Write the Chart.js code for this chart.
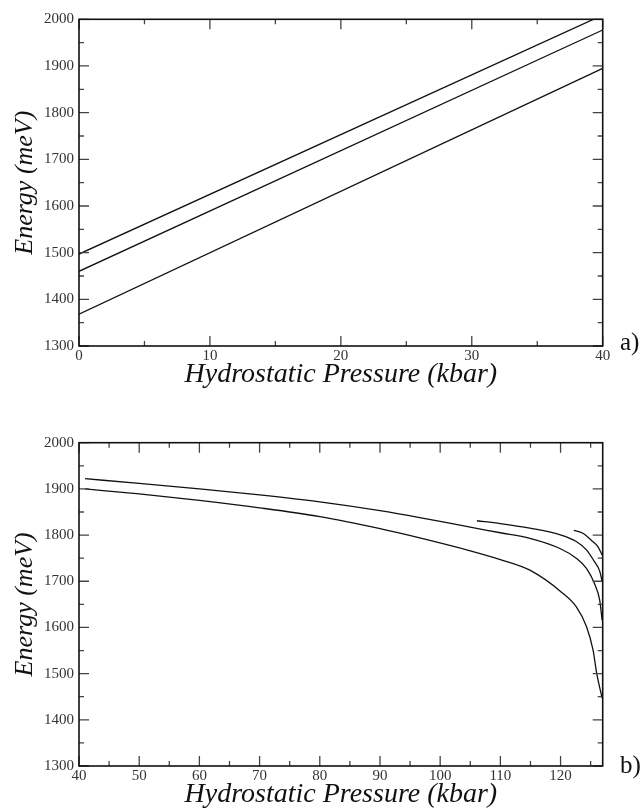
<!DOCTYPE html>
<html>
<head>
<meta charset="utf-8">
<script src="https://cdn.jsdelivr.net/npm/chart.js@4/dist/chart.umd.min.js"></script>
<style>
  html, body { margin: 0; padding: 0; background: #fff; }
  body { width: 642px; height: 808px; position: relative; overflow: hidden; }
  .wrap { position: absolute; left: 0; width: 642px; }
  #wa { top: 0; height: 391px; }
  #wb { top: 420px; height: 391px; }
  .lab { position: absolute; font-family: "Liberation Serif", "DejaVu Serif", serif; font-size: 25px; color: #111; line-height: 1; }
</style>
</head>
<body>
<div class="wrap" id="wa"><canvas id="ca" width="642" height="391"></canvas></div>
<div class="wrap" id="wb"><canvas id="cb" width="642" height="391"></canvas></div>
<div class="lab" style="left:620px; top:329px;">a)</div>
<div class="lab" style="left:620px; top:752px;">b)</div>
<script>
// ---------- data: panel a ----------
const pressureA = [0, 40];
const levelA1 = [1497, 2009];
const levelA2 = [1460, 1977];
const levelA3 = [1368, 1895];
const xTicksA = [0, 10, 20, 30, 40];
const xMinorA = [5, 15, 25, 35];

// ---------- data: panel b ----------
const pressureB1 = [41, 50, 60, 70, 80, 90, 96.6, 105, 110, 114.9, 119.9, 122.6, 124.3, 125.6, 126.5, 126.9];
const energyB1   = [1922, 1912, 1900, 1887, 1872, 1853, 1838, 1817, 1805, 1793, 1771, 1750, 1728, 1696, 1659, 1616];
const pressureB2 = [41, 50, 60, 70, 80, 90, 96.6, 105, 110, 114.9, 120.1, 122.6, 124.3, 125.4, 126.0, 126.9];
const energyB2   = [1900, 1889, 1875, 1859, 1840, 1814, 1794, 1766, 1747, 1724, 1677, 1645, 1602, 1551, 1501, 1447];
const pressureB3 = [106.1, 110, 114.9, 120.1, 122.6, 124.3, 125.6, 126.5, 126.9];
const energyB3   = [1831, 1825, 1815, 1800, 1786, 1768, 1743, 1722, 1700];
const pressureB4 = [122.2, 123.7, 125.1, 126.2, 126.9];
const energyB4   = [1810, 1804, 1789, 1775, 1757];
const xTicksB = [40, 50, 60, 70, 80, 90, 100, 110, 120];
const xMinorB = [45, 55, 65, 75, 85, 95, 105, 115, 125];

// ---------- shared energy axis ----------
const yTicks = [1300, 1400, 1500, 1600, 1700, 1800, 1900, 2000];
const yMinor = [1350, 1450, 1550, 1650, 1750, 1850, 1950];

const FONT = "'Liberation Serif', 'DejaVu Serif', serif";
const xTitle = 'Hydrostatic Pressure (kbar)';
const yTitle = 'Energy (meV)';

function pts(xs, ys) { return xs.map((x, i) => ({ x: x, y: ys[i] })); }
function line(xs, ys) {
  return {
    data: pts(xs, ys), borderColor: '#111', borderWidth: 1.3, pointRadius: 0,
    fill: false, cubicInterpolationMode: 'monotone'
  };
}

const framePlugin = {
  id: 'frame',
  afterDraw(chart, args, opts) {
    const ctx = chart.ctx;
    const a = chart.chartArea;
    const xs = chart.scales.x, ys = chart.scales.y;
    ctx.save();
    ctx.strokeStyle = '#444';
    ctx.lineWidth = 1.3;
    const M = 10, m = 5;
    ctx.beginPath();
    opts.xMajor.forEach(v => { const p = xs.getPixelForValue(v);
      ctx.moveTo(p, a.bottom); ctx.lineTo(p, a.bottom - M);
      ctx.moveTo(p, a.top); ctx.lineTo(p, a.top + M); });
    opts.xMinor.forEach(v => { const p = xs.getPixelForValue(v);
      ctx.moveTo(p, a.bottom); ctx.lineTo(p, a.bottom - m);
      ctx.moveTo(p, a.top); ctx.lineTo(p, a.top + m); });
    opts.yMajor.forEach(v => { const p = ys.getPixelForValue(v);
      ctx.moveTo(a.left, p); ctx.lineTo(a.left + M, p);
      ctx.moveTo(a.right, p); ctx.lineTo(a.right - M, p); });
    opts.yMinor.forEach(v => { const p = ys.getPixelForValue(v);
      ctx.moveTo(a.left, p); ctx.lineTo(a.left + m, p);
      ctx.moveTo(a.right, p); ctx.lineTo(a.right - m, p); });
    ctx.stroke();
    ctx.strokeStyle = '#111';
    ctx.lineWidth = 1.6;
    ctx.strokeRect(a.left, a.top, a.right - a.left, a.bottom - a.top);
    ctx.restore();
  }
};

function makeChart(id, datasets, xmin, xmax, xTicks, xMinor, topPad) {
  return new Chart(document.getElementById(id), {
    type: 'line',
    data: { datasets: datasets },
    plugins: [framePlugin],
    options: {
      responsive: false,
      devicePixelRatio: 1,
      animation: false,
      layout: { padding: { top: topPad, right: 39.3, left: 0, bottom: 0 } },
      plugins: {
        legend: { display: false }, tooltip: { enabled: false },
        frame: { xMajor: xTicks, xMinor: xMinor, yMajor: yTicks, yMinor: yMinor }
      },
      scales: {
        x: {
          type: 'linear', min: xmin, max: xmax,
          afterBuildTicks: s => { s.ticks = xTicks.map(v => ({ value: v })); },
          afterFit: s => { s.height = 45; },
          grid: { display: false, drawTicks: false }, border: { display: false },
          ticks: { color: '#333', font: { family: FONT, size: 15 }, padding: 1, maxRotation: 0, autoSkip: false,
                   callback: v => String(v) },
          title: { display: true, text: xTitle, color: '#111',
                   font: { family: FONT, size: 28, style: 'italic', lineHeight: 1.2 },
                   padding: { top: 0, bottom: 0 } }
        },
        y: {
          type: 'linear', min: 1300, max: 2000,
          afterBuildTicks: s => { s.ticks = yTicks.map(v => ({ value: v })); },
          afterFit: s => { s.width = 79; },
          grid: { display: false, drawTicks: false }, border: { display: false },
          ticks: { color: '#333', font: { family: FONT, size: 15 }, padding: 5, autoSkip: false,
                   callback: v => String(v) },
          title: { display: true, text: yTitle, color: '#111',
                   font: { family: FONT, size: 26, style: 'italic', lineHeight: 1.2 },
                   padding: { top: 9.5, bottom: 0 } }
        }
      }
    }
  });
}

makeChart('ca', [line(pressureA, levelA1), line(pressureA, levelA2), line(pressureA, levelA3)],
  0, 40, xTicksA, xMinorA, 19.3);
makeChart('cb', [line(pressureB1, energyB1), line(pressureB2, energyB2),
                 line(pressureB3, energyB3), line(pressureB4, energyB4)],
  40, 127, xTicksB, xMinorB, 22.7);
</script>
</body>
</html>
